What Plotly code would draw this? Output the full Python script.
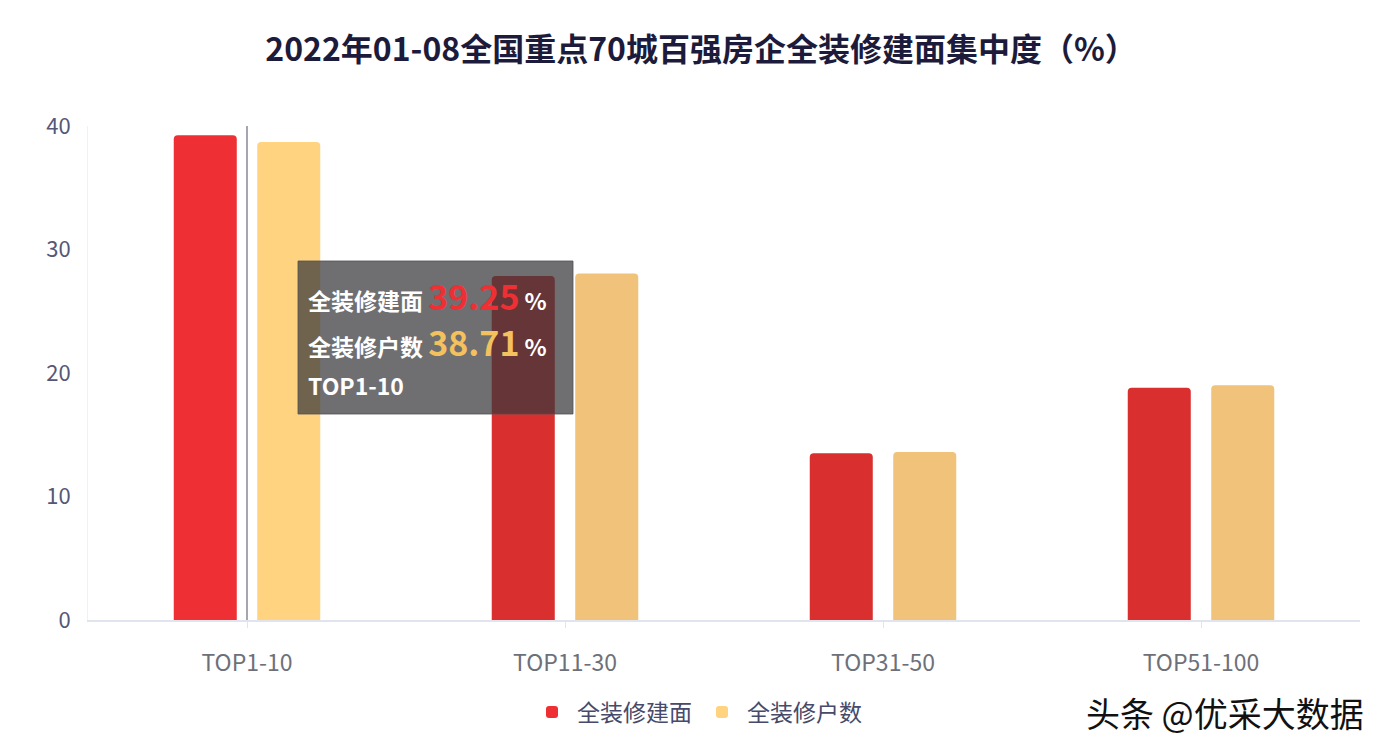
import plotly.graph_objects as go

categories = ["TOP1-10", "TOP11-30", "TOP31-50", "TOP51-100"]
area_values = [39.25, 27.85, 13.5, 18.8]      # 全装修建面
household_values = [38.71, 28.05, 13.6, 19.0]  # 全装修户数
series_names = ["全装修建面", "全装修户数"]
y_ticks = [0, 10, 20, 30, 40]
title_text = "2022年01-08全国重点70城百强房企全装修建面集中度（%）"
watermark = "头条 @优采大数据"

FONT = "Noto Sans CJK SC"
RED = "#d92f2e"
RED_HI = "#ee3035"
YEL = "#f0c27a"
YEL_HI = "#ffd37f"
hi = 0  # hovered category index

fig = go.Figure()
fig.add_trace(go.Bar(
    name=series_names[0], x=categories, y=area_values,
    marker=dict(color=[RED_HI if i == hi else RED for i in range(len(categories))],
                cornerradius=4, line=dict(width=0)),
))
fig.add_trace(go.Bar(
    name=series_names[1], x=categories, y=household_values,
    marker=dict(color=[YEL_HI if i == hi else YEL for i in range(len(categories))],
                cornerradius=4, line=dict(width=0)),
))

OFF = 8  # page body margin
W, H = 1394 - OFF, 752 - OFF
plot_left, plot_right, plot_top, plot_bottom = 88, 1360, 126, 620
ml = plot_left - OFF
mr = W - (plot_right - OFF)
mt = plot_top - OFF
mb = H - (plot_bottom - OFF)
pw, ph = W - ml - mr, H - mt - mb

def px(x):
    return (x - OFF - ml) / pw

def py(y):
    return (H - mb - (y - OFF)) / ph

# axis pointer line on hovered category
fig.add_shape(type="line", xref="x", yref="paper", x0=categories[hi], x1=categories[hi],
              y0=0, y1=1, line=dict(color="#6a6a7a", width=1.2), layer="above")

# tooltip box
fig.add_shape(type="rect", xref="paper", yref="paper",
              x0=px(298), x1=px(573), y0=py(414), y1=py(261),
              fillcolor="rgba(55,55,60,0.72)", line=dict(color="rgba(80,80,85,0.8)", width=1),
              layer="above")

tip_lines = [
    f"<b>{series_names[0]}</b> <span style='font-size:34px;color:{RED_HI}'><b>{area_values[hi]:.2f}</b></span> <b>%</b>",
    f"<b>{series_names[1]}</b> <span style='font-size:34px;color:#f3c15e'><b>{household_values[hi]:.2f}</b></span> <b>%</b>",
    f"<b>{categories[hi]}</b>",
]
for txt, ypix in zip(tip_lines, [295, 341, 385]):
    fig.add_annotation(xref="paper", yref="paper", x=px(306), y=py(ypix),
                       xanchor="left", yanchor="middle", text=txt, showarrow=False,
                       font=dict(family=FONT, size=23, color="white"))

fig.add_annotation(xref="paper", yref="paper", x=px(1225), y=py(712),
                   xanchor="center", yanchor="middle", text=watermark, showarrow=False,
                   font=dict(family=FONT, size=34, color="#111111"))

fig.update_layout(
    width=W, height=H,
    margin=dict(l=ml, r=mr, t=mt, b=mb),
    paper_bgcolor="white", plot_bgcolor="white",
    barmode="group", bargap=0.475, bargroupgap=0.245,
    title=dict(text=f"<b>{title_text}</b>", x=0.5, xanchor="center", y=1 - (50 - OFF) / H,
               yanchor="middle", font=dict(family=FONT, size=32, color="#1c1b3b")),
    font=dict(family=FONT),
    showlegend=True,
    legend=dict(orientation="h", x=px(697), xanchor="center", y=py(712), yanchor="middle",
                font=dict(family=FONT, size=23, color="#474a6a"), itemwidth=40,
                traceorder="normal", bgcolor="rgba(0,0,0,0)"),
    xaxis=dict(showgrid=False, showline=True, linecolor="#dfe4ee", linewidth=1.5,
               ticks="outside", ticklen=6, tickcolor="#dfe4ee",
               tickfont=dict(family=FONT, size=23, color="#6e7079"),
               ticklabelstandoff=16),
    yaxis=dict(range=[0, 40], tickvals=y_ticks, showgrid=False, zeroline=False,
               showline=True, linecolor="#eef1f6", linewidth=1,
               tickfont=dict(family=FONT, size=22, color="#545778"),
               ticklabelstandoff=12),
)

fig.write_html("out.html")
